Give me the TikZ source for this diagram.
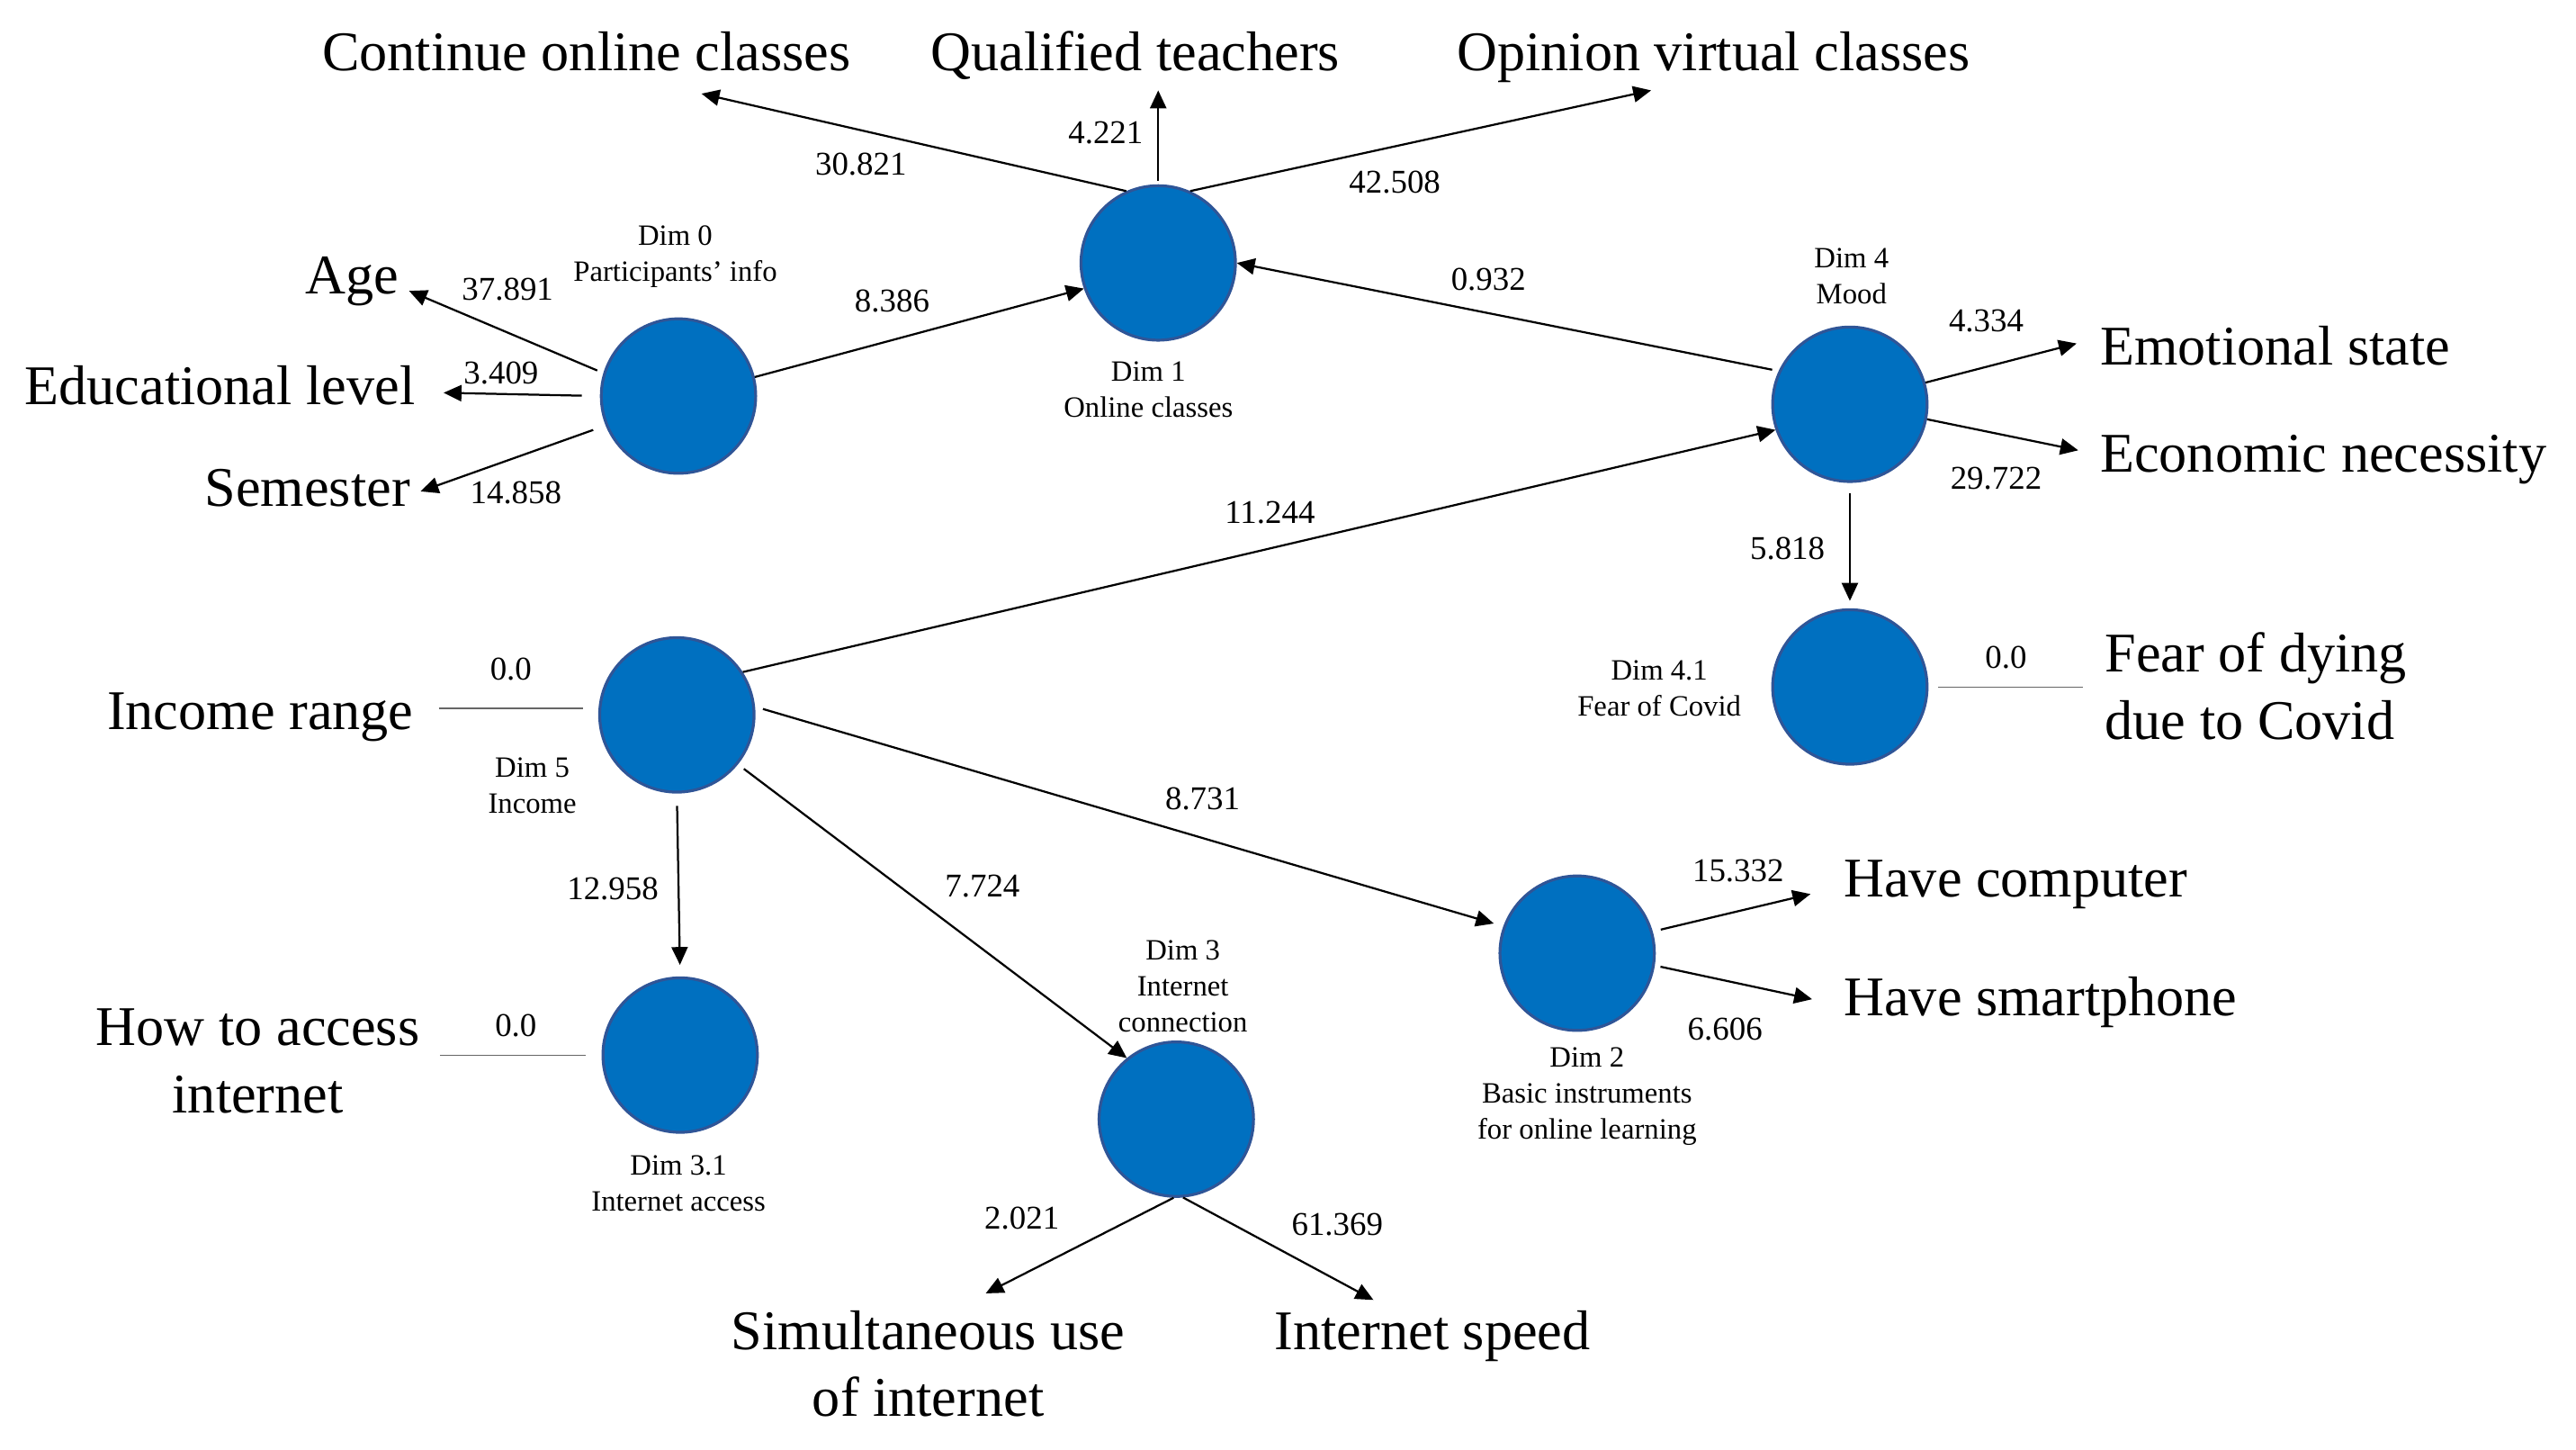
\documentclass[tikz,border=0pt]{standalone}
\usepackage{fontspec}
\setmainfont{Liberation Serif}
\usetikzlibrary{arrows.meta}
\definecolor{dimblue}{HTML}{0070C0}
\definecolor{dimedge}{HTML}{2F5597}
\tikzset{
  latent/.style={circle, draw=dimedge, line width=1pt, fill=dimblue, minimum size=1.88cm, inner sep=0pt},
  loading/.style={line width=0.7pt, -{Triangle[length=6.2pt,width=5.6pt]}},
  zeroline/.style={draw=black!60, line width=0.4pt},
  indicator/.style={font=\fontsize{19.4}{23.3}\selectfont, inner sep=0pt},
  dimtext/.style={font=\fontsize{10.2}{12.5}\selectfont, align=center, inner sep=0pt},
  weight/.style={font=\fontsize{11.5}{13.8}\selectfont, inner sep=0pt},
}
\begin{document}
\begin{tikzpicture}[x=0.02cm, y=-0.02cm]
    \useasboundingbox (0,0) rectangle (1568,882);

    % Latent dimensions
    \node[latent] (d0) at (413,241) {};
    \node[latent] (d1) at (705,160) {};
    \node[latent] (d4) at (1126,246) {};
    \node[latent] (d41) at (1126,418) {};
    \node[latent] (d5) at (412,435) {};
    \node[latent] (d31) at (414,642) {};
    \node[latent] (d3) at (716,681) {};
    \node[latent] (d2) at (960,580) {};

    % Dimension names
    \node[dimtext] (d0-name) at (411,156) {Dim 0\\Participants’ info};
    \node[dimtext] (d1-name) at (699,237) {Dim 1\\Online classes};
    \node[dimtext] (d4-name) at (1127,168) {Dim 4\\Mood};
    \node[dimtext] (d41-name) at (1010,419) {Dim 4.1\\Fear of Covid};
    \node[dimtext] (d5-name) at (324,478) {Dim 5\\Income};
    \node[dimtext] (d31-name) at (413,720) {Dim 3.1\\Internet access};
    \node[dimtext] (d3-name) at (720,600) {Dim 3\\Internet\\connection};
    \node[dimtext] (d2-name) at (966,667) {Dim 2\\Basic instruments\\for online learning};

    % Observed items (two-line nodes sit on their last baseline)
    \node[indicator, anchor=base] (cont) at (357,43) {Continue online classes};
    \node[indicator, anchor=base] (qual) at (691,43) {Qualified teachers};
    \node[indicator, anchor=base] (opin) at (1043,43) {Opinion virtual classes};
    \node[indicator, anchor=base east] (age) at (243,179) {Age};
    \node[indicator, anchor=base east] (edu) at (253,246) {Educational level};
    \node[indicator, anchor=base east] (sem) at (250,308) {Semester};
    \node[indicator, anchor=base west] (emo) at (1278,222) {Emotional state};
    \node[indicator, anchor=base west] (eco) at (1278,287) {Economic necessity};
    \node[indicator, anchor=base west, align=left] (fear) at (1281,450) {Fear of dying\\due to Covid};
    \node[indicator, anchor=base east] (incr) at (252,444) {Income range};
    \node[indicator, anchor=base, align=center] (howto) at (157,677) {How to access\\internet};
    \node[indicator, anchor=base west] (comp) at (1122,546) {Have computer};
    \node[indicator, anchor=base west] (smart) at (1122,618) {Have smartphone};
    \node[indicator, anchor=base, align=center] (simu) at (565,862) {Simultaneous use\\of internet};
    \node[indicator, anchor=base] (speed) at (872,821) {Internet speed};

    % Arrow tips next to the items
    \coordinate (cont-in) at (427,57);
    \coordinate (qual-in) at (705,55);
    \coordinate (opin-in) at (1005,55);
    \coordinate (age-in) at (249,177);
    \coordinate (edu-in) at (270,239);
    \coordinate (sem-in) at (256,299);
    \coordinate (emo-in) at (1264,209);
    \coordinate (eco-in) at (1265,274);
    \coordinate (comp-in) at (1102,544);
    \coordinate (smart-in) at (1103,608);
    \coordinate (simu-in) at (600,787);
    \coordinate (speed-in) at (836,791);
    \coordinate (incr-out) at (267,431);
    \coordinate (howto-out) at (268,642);
    \coordinate (fear-out) at (1268,418);

    % Structural paths
    \draw[loading] (d0.14) -- (d1.199);
    \draw[loading, shorten <=0.08cm] (d4.155) -- (d1.east);
    \draw[loading, shorten <=0.13cm, shorten >=0.09cm] (d4.south) -- (d41.north);
    \draw[loading] (d5.33) -- (d4.199);
    \draw[loading, shorten <=0.1cm, shorten >=0.12cm] (d5.6) -- (d2.160);
    \draw[loading, shorten <=0.09cm] (d5.-39) -- (d3.129);
    \draw[loading, shorten <=0.15cm, shorten >=0.14cm] (d5.south) -- (d31.north);

    % Measurement paths
    \draw[loading] (d1.114) -- (cont-in);
    \draw[loading, shorten <=0.04cm] (d1.north) -- (qual-in);
    \draw[loading] (d1.66) -- (opin-in);
    \draw[loading, shorten <=0.08cm] (d0.163) -- (age-in);
    \draw[loading, shorten <=0.22cm] (d0.west) -- (edu-in);
    \draw[loading, shorten <=0.16cm] (d0.202) -- (sem-in);
    \draw[loading] (d4.16) -- (emo-in);
    \draw[loading] (d4.-11) -- (eco-in);
    \draw[loading, shorten <=0.1cm] (d2.16) -- (comp-in);
    \draw[loading, shorten <=0.07cm] (d2.-9) -- (smart-in);
    \draw[loading] (d3.268) -- (simu-in);
    \draw[loading] (d3.275) -- (speed-in);

    % Single-item dimensions
    \draw[zeroline, shorten >=0.19cm] (incr-out) -- (d5.west |- incr-out);
    \draw[zeroline, shorten >=0.19cm] (howto-out) -- (d31.west |- howto-out);
    \draw[zeroline, shorten <=0.12cm] (d41.east |- fear-out) -- (fear-out);

    % Weights
    \foreach \n/\x/\y/\w in {w1/524/100/30.821, w2/673/81/4.221, w3/849/111/42.508,
        w4/543/183/8.386, w5/906/170/0.932, w6/309/176/37.891, w7/305/227/3.409,
        w8/314/300/14.858, w9/1209/195/4.334, w10/1215/291/29.722, w11/1088/334/5.818,
        w12/1221/400/0.0, w13/773/312/11.244, w14/311/407/0.0, w15/373/541/12.958,
        w16/598/539/7.724, w17/732/486/8.731, w18/314/624/0.0, w19/622/741/2.021,
        w20/814/745/61.369, w21/1058/530/15.332, w22/1050/626/6.606}
        \node[weight] (\n) at (\x,\y) {\w};
\end{tikzpicture}
\end{document}
